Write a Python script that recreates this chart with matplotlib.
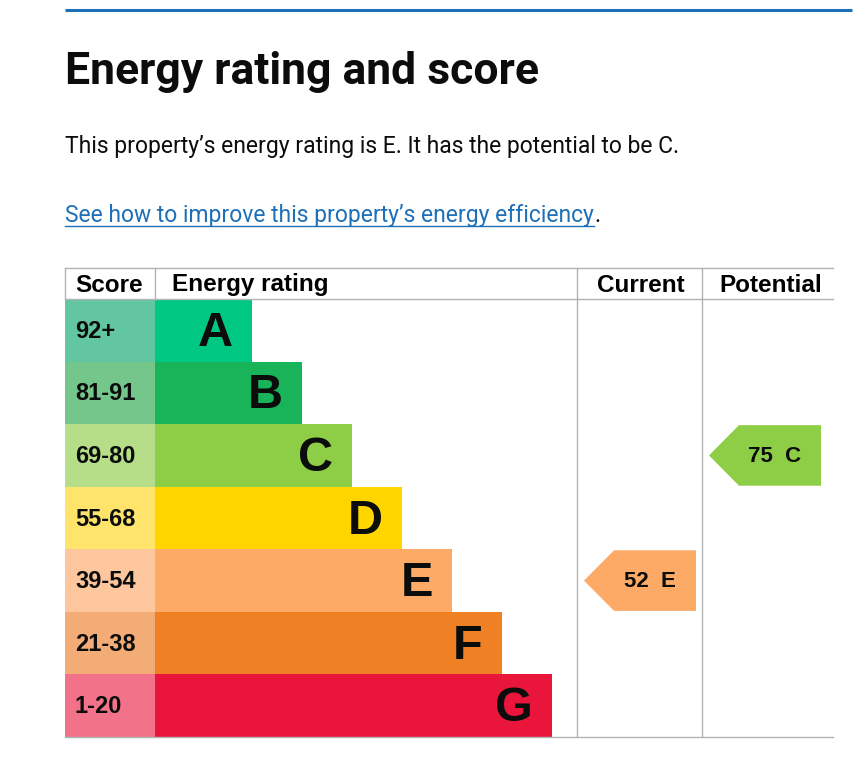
import matplotlib.pyplot as plt
from matplotlib.patches import Rectangle, Polygon

# data
bands = ['A', 'B', 'C', 'D', 'E', 'F', 'G']
score_ranges = ['92+', '81-91', '69-80', '55-68', '39-54', '21-38', '1-20']
range_low = [92, 81, 69, 55, 39, 21, 1]
bar_colors = ['#00c781', '#19b459', '#8dce46', '#ffd500', '#fcaa65', '#ef8023', '#e9153b']
cell_colors = ['#62c6a0', '#74c68b', '#b6dd88', '#ffe46b', '#fdc69d', '#f4ac76', '#f27389']
current_score = 52
potential_score = 75

title = 'Energy rating and score'
summary = 'This property\u2019s energy rating is E. It has the potential to be C.'
link_text = 'See how to improve this property\u2019s energy efficiency'

grey = '#b1b4b6'
blue = '#1d70b8'

fig = plt.figure(figsize=(8.66, 7.66), dpi=100)
ax = fig.add_axes([0, 0, 1, 1])
ax.set_xlim(0, 866)
ax.set_ylim(766, 0)
ax.axis('off')

# page header
ax.plot([65, 852], [10, 10], color=blue, lw=2.2, solid_capstyle='butt')
ax.text(65, 84, title, fontsize=32, fontweight='bold', va='baseline',
        family=['Liberation Sans Narrow', 'Roboto', 'DejaVu Sans'], color='#0b0c0c')
ax.text(65, 153, summary, fontsize=16.5, va='baseline', family=['Roboto', 'DejaVu Sans'], color='#0b0c0c')
link = ax.text(65, 222, link_text, fontsize=16.5, va='baseline', family=['Roboto', 'DejaVu Sans'], color=blue)

# table geometry
left, score_w, cur_x, pot_x, right = 65, 155, 577, 702, 833
head_top, head_bot, bottom = 268, 299, 737
row_h = (bottom - head_bot) / len(bands)

# table lines
ax.plot([left, right], [head_top, head_top], color=grey, lw=1)
ax.plot([left, right], [head_bot, head_bot], color=grey, lw=1)
ax.plot([left, right], [bottom, bottom], color=grey, lw=1)
for x in [left, score_w]:
    ax.plot([x, x], [head_top, head_bot], color=grey, lw=1)
for x in [cur_x, pot_x]:
    ax.plot([x, x], [head_top, bottom], color=grey, lw=1)

hfont = dict(fontsize=17.5, fontweight='bold', va='center', family=['Liberation Sans', 'DejaVu Sans'])
ax.text(75, 285, 'Score', ha='left', **hfont)
ax.text(172, 285, 'Energy rating', ha='left', **hfont)
ax.text((cur_x + pot_x) / 2 + 1, 285, 'Current', ha='center', **hfont)
ax.text((pot_x + right) / 2 + 3, 285, 'Potential', ha='center', **hfont)

# rating bands
for i, (b, rng) in enumerate(zip(bands, score_ranges)):
    y0 = head_bot + i * row_h
    ax.add_patch(Rectangle((left, y0), score_w - left, row_h, color=cell_colors[i], lw=0))
    bar_end = score_w + 97 + 50 * i
    ax.add_patch(Rectangle((score_w, y0), bar_end - score_w, row_h, color=bar_colors[i], lw=0))
    ax.text(75, y0 + row_h / 2 + 1, rng, fontsize=17, fontweight='bold', va='center', ha='left',
            family=['Liberation Sans', 'DejaVu Sans'], color='#0b0c0c')
    ax.text(bar_end - 19, y0 + row_h / 2 + 3, b, fontsize=35, fontweight='bold', va='center', ha='right',
            family=['Liberation Sans', 'DejaVu Sans'], color='#0b0c0c')


def band_of(score):
    for i, lo in enumerate(range_low):
        if score >= lo:
            return i
    return len(range_low) - 1


def arrow(col_x, score):
    i = band_of(score)
    y0 = head_bot + i * row_h + 1
    y1 = y0 + row_h - 2
    tip, body, end = col_x + 7, col_x + 37, col_x + 119
    ax.add_patch(Polygon([(tip, (y0 + y1) / 2), (body, y0), (end, y0), (end, y1), (body, y1)],
                         closed=True, color=bar_colors[i], lw=0))
    ax.text(col_x + 73, (y0 + y1) / 2 + 1, f'{score}  {bands[i]}', fontsize=16, fontweight='bold',
            ha='center', va='center', family=['Liberation Sans', 'DejaVu Sans'], color='#0b0c0c')


arrow(cur_x, current_score)
arrow(pot_x, potential_score)

# underline the link and add the full stop
fig.canvas.draw()
bb = link.get_window_extent().transformed(ax.transData.inverted())
x_end = bb.x1
ax.plot([65, x_end], [226, 226], color=blue, lw=1)
ax.text(x_end + 1, 222, '.', fontsize=16.5, va='baseline', family=['Roboto', 'DejaVu Sans'], color='#0b0c0c')

fig.savefig('out.png', dpi=100)
